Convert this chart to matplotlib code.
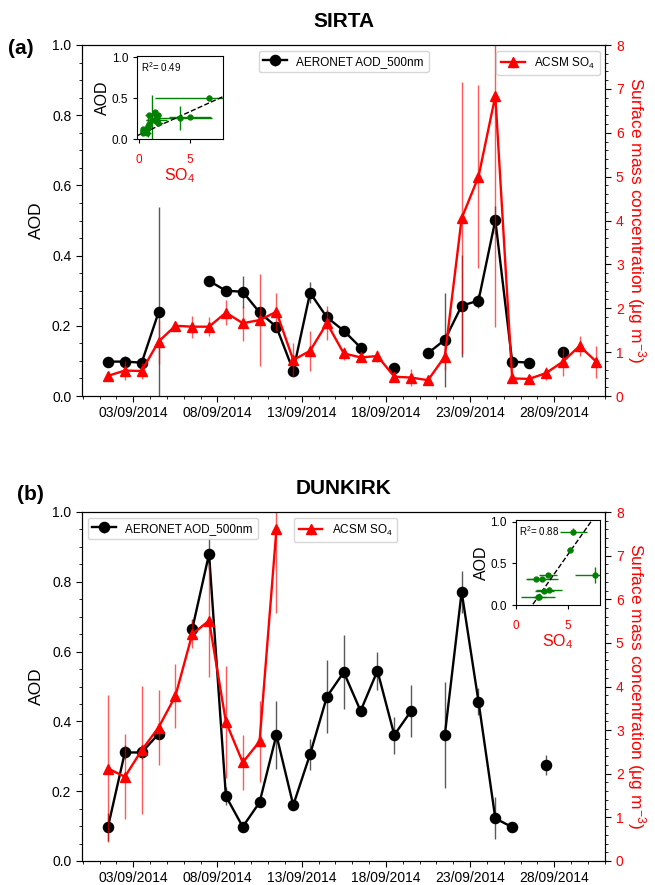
import numpy as np
import pandas as pd
import matplotlib
matplotlib.use('Agg')
import matplotlib.pyplot as plt
import matplotlib.dates as mdates
from matplotlib.ticker import MultipleLocator
from datetime import datetime

plt.rcParams['font.family'] = ['Liberation Sans', 'DejaVu Sans']
plt.rcParams['mathtext.fontset'] = 'custom'
plt.rcParams['mathtext.rm'] = 'Liberation Sans'
plt.rcParams['mathtext.it'] = 'Liberation Sans:italic'
plt.rcParams['mathtext.bf'] = 'Liberation Sans:bold'

nan = np.nan

# daily means, 1 to 30 September 2014 (plotted at noon)
days = pd.date_range('2014-09-01 12:00', periods=30, freq='D')

# SIRTA
sirta_aod = [0.098, 0.098, 0.095, 0.238, nan, nan, 0.328, 0.300, 0.297, 0.238,
             0.197, 0.072, 0.294, 0.224, 0.186, 0.138, nan, 0.079, nan, 0.122,
             0.160, 0.257, 0.272, 0.501, 0.098, 0.095, nan, 0.124, nan, nan]
sirta_aod_err = [0.006, 0.015, 0.010, 0.300, nan, nan, 0.015, 0.012, 0.045, 0.015,
                 0.015, 0.010, 0.030, 0.020, 0.012, 0.010, nan, 0.010, nan, 0.012,
                 0.133, 0.145, 0.020, 0.040, 0.008, 0.008, nan, 0.015, nan, nan]
sirta_so4 = [0.46, 0.58, 0.57, 1.24, 1.60, 1.58, 1.58, 1.90, 1.66, 1.73,
             1.92, 0.82, 1.03, 1.66, 0.97, 0.88, 0.91, 0.44, 0.42, 0.36,
             0.90, 4.05, 5.00, 6.84, 0.40, 0.39, 0.52, 0.78, 1.14, 0.78]
sirta_so4_err = [0.08, 0.22, 0.18, 0.50, 0.12, 0.25, 0.22, 0.28, 0.40, 1.05,
                 0.43, 0.38, 0.45, 0.38, 0.15, 0.10, 0.13, 0.10, 0.19, 0.05,
                 0.30, 3.10, 2.08, 5.27, 0.05, 0.06, 0.15, 0.32, 0.23, 0.37]
sirta_fit = (0.057, 0.05)   # slope, intercept of the inset line
sirta_r2 = 'R$^2$= 0.49'

# DUNKIRK
dunkirk_aod = [0.098, 0.311, 0.311, 0.364, nan, 0.664, 0.880, 0.186, 0.098, 0.168,
               0.361, 0.160, 0.306, 0.471, 0.541, 0.430, 0.545, 0.361, 0.430, nan,
               0.361, 0.771, 0.457, 0.122, 0.097, nan, 0.275, nan, nan, nan]
dunkirk_aod_err = [0.040, 0.020, 0.020, 0.015, nan, 0.030, 0.045, 0.025, 0.010, 0.010,
                   0.098, 0.010, 0.044, 0.104, 0.106, 0.015, 0.054, 0.053, 0.075, nan,
                   0.153, 0.060, 0.040, 0.060, 0.005, nan, 0.028, nan, nan, nan]
dunkirk_so4 = [2.12, 1.93, 2.54, 3.06, 3.78, 5.20, 5.51, 3.19, 2.26, 2.74,
               7.60] + [nan] * 19
dunkirk_so4_err = [1.68, 0.97, 1.47, 0.85, 0.73, 0.32, 1.30, 1.29, 0.63, 0.92,
                   1.92] + [nan] * 19
dunkirk_fit = (0.177, -0.28)
dunkirk_r2 = 'R$^2$= 0.88'

W, H = 655, 885
fig = plt.figure(figsize=(W / 100, H / 100), dpi=100)


def px(x0, y0, x1, y1):
    # pixel box -> figure fraction [left, bottom, width, height]
    return [x0 / W, 1 - y1 / H, (x1 - x0) / W, (y1 - y0) / H]


def panel(box, inset_box, inset_xlim, aod, aod_err, so4, so4_err, fit, r2,
          title, letter, letter_xy, legend_pos):
    aod = np.array(aod); aod_err = np.array(aod_err)
    so4 = np.array(so4); so4_err = np.array(so4_err)

    ax1 = fig.add_axes(px(*box))
    ax1.errorbar(days, aod, yerr=aod_err, fmt='-o', color='k', ecolor=(0, 0, 0, 0.65),
                 lw=1.7, elinewidth=1, ms=7.3, label='AERONET AOD_500nm')
    ax1.set_ylim(0, 1)
    ax1.yaxis.set_major_locator(MultipleLocator(0.2))
    ax1.yaxis.set_minor_locator(MultipleLocator(0.05))
    ax1.set_ylabel('AOD', fontsize=12.5, labelpad=6)
    ax1.set_xlim(datetime(2014, 8, 30, 22, 30), datetime(2014, 10, 1, 1, 0))
    ax1.xaxis.set_major_locator(mdates.DayLocator(bymonthday=[3, 8, 13, 18, 23, 28]))
    ax1.xaxis.set_minor_locator(mdates.DayLocator())
    ax1.xaxis.set_major_formatter(mdates.DateFormatter('%d/%m/%Y'))
    ax1.tick_params(which='both', direction='out', labelsize=10)
    ax1.tick_params(which='major', length=4)
    ax1.tick_params(which='minor', length=2)
    ax1.set_title(title, fontsize=15, fontweight='bold', pad=13)

    ax2 = ax1.twinx()
    ax2.errorbar(days, so4, yerr=so4_err, fmt='-^', color='red', ecolor=(1, 0, 0, 0.65),
                 lw=1.7, elinewidth=1, ms=6.5, label='ACSM SO$_4$')
    ax2.set_ylim(0, 8)
    ax2.yaxis.set_major_locator(MultipleLocator(1))
    ax2.yaxis.set_minor_locator(MultipleLocator(0.2))
    ax2.tick_params(which='both', direction='out', labelsize=10, labelcolor='red')
    ax2.tick_params(which='major', length=4)
    ax2.tick_params(which='minor', length=2)
    ax2.set_ylabel('Surface mass concentration (μg m$^{-3}$)', color='red',
                   fontsize=12.5, rotation=270, labelpad=17)

    (loc1, anc1), (loc2, anc2) = legend_pos
    ax1.legend(loc=loc1, bbox_to_anchor=anc1, fontsize=8.5)
    ax2.legend(loc=loc2, bbox_to_anchor=anc2, fontsize=8.5)

    fig.text(letter_xy[0] / W, 1 - letter_xy[1] / H, letter, fontsize=15,
             fontweight='bold', va='center')

    # scatter inset
    axi = fig.add_axes(px(*inset_box))
    m = ~np.isnan(aod) & ~np.isnan(so4)
    axi.errorbar(so4[m], aod[m], xerr=so4_err[m], yerr=aod_err[m], fmt='o',
                 color='green', ecolor='green', ms=3.5, elinewidth=1)
    xx = np.array(inset_xlim)
    axi.plot(xx, fit[0] * xx + fit[1], '--', color='k', lw=1)
    axi.set_xlim(*inset_xlim)
    axi.set_ylim(0, 1.02)
    axi.set_xticks([0, 5])
    axi.set_yticks([0, 0.5, 1.0])
    axi.set_yticklabels(['0.0', '0.5', '1.0'])
    axi.tick_params(axis='y', labelsize=8.5, length=3)
    axi.tick_params(axis='x', labelsize=8.5, labelcolor='red', length=3, pad=8)
    axi.set_xlabel('SO$_4$', color='red', fontsize=11.5, labelpad=0)
    axi.set_ylabel('AOD', fontsize=11.5, labelpad=1)
    axi.text(0.04, 0.95, r2, transform=axi.transAxes, fontsize=7, va='top')


panel((81.7, 45, 605.5, 396), (137.3, 55.7, 222.7, 139), (-0.15, 8.2),
      sirta_aod, sirta_aod_err, sirta_so4, sirta_so4_err, sirta_fit, sirta_r2,
      'SIRTA', '(a)', (8, 48),
      (('upper center', (0.5, 1.0)), ('upper right', (1.0, 1.0))))

panel((81.7, 512, 605.5, 861), (516, 520, 600, 605), (0, 8.1),
      dunkirk_aod, dunkirk_aod_err, dunkirk_so4, dunkirk_so4_err, dunkirk_fit, dunkirk_r2,
      'DUNKIRK', '(b)', (17, 495),
      (('upper left', (0.0, 1.0)), ('upper left', (0.394, 1.0))))

fig.savefig('out.png', dpi=100)
